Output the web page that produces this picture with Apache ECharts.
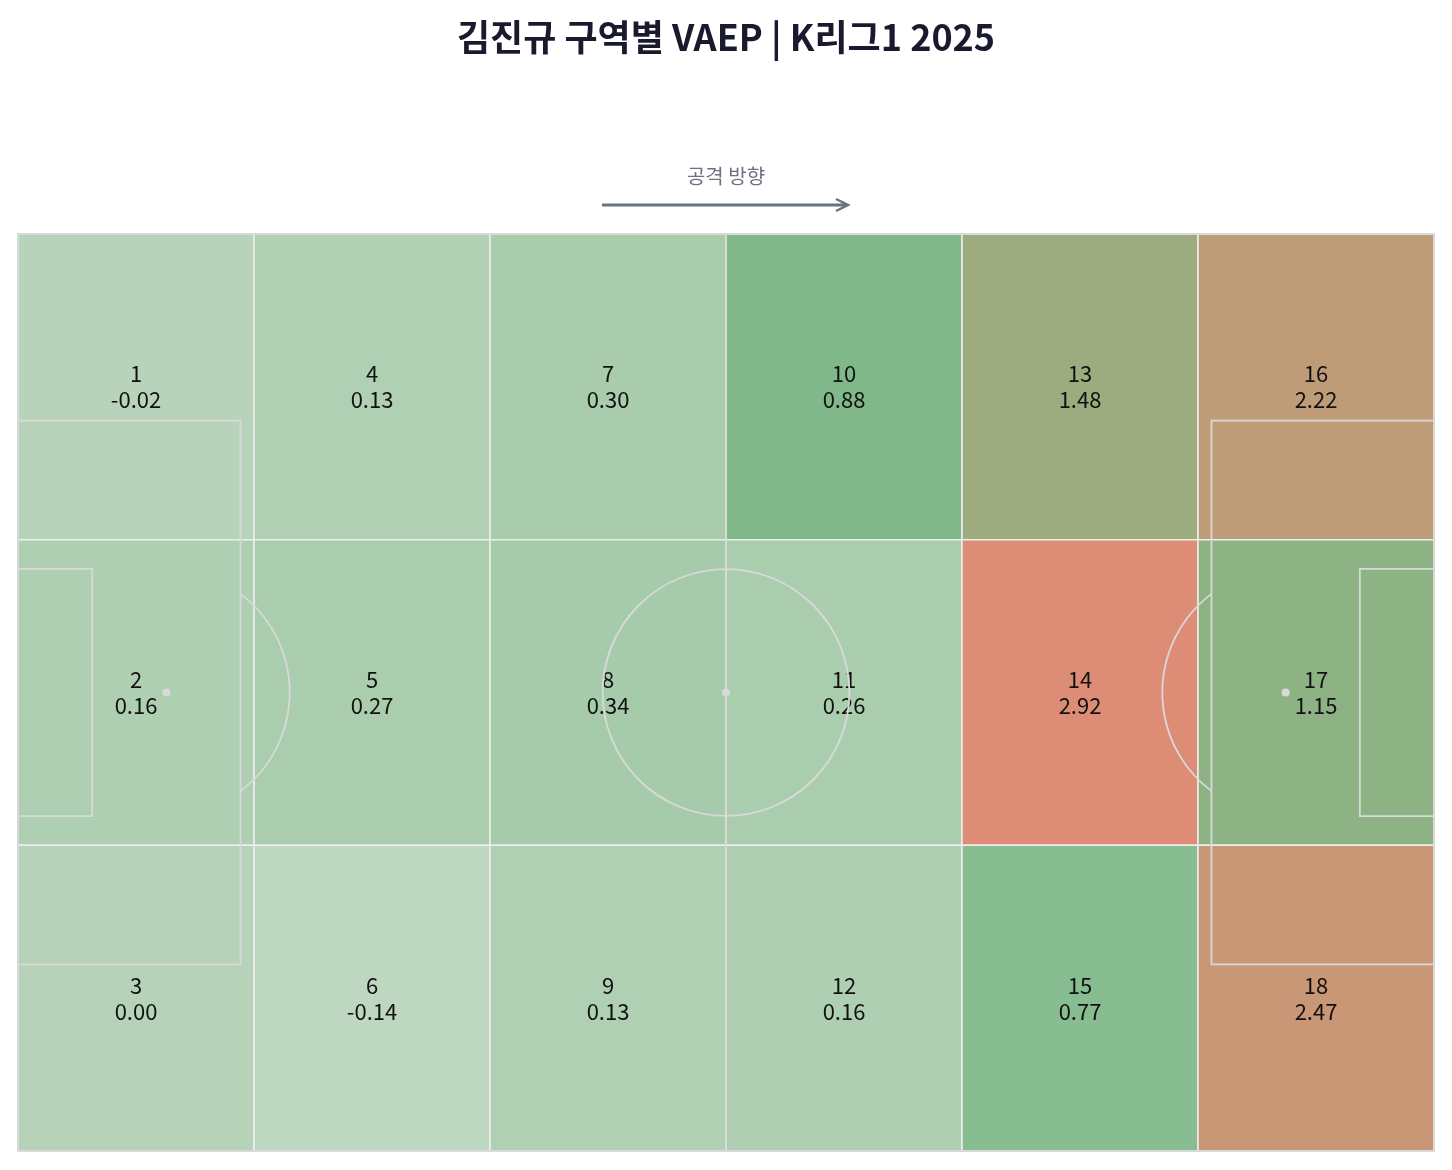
<!DOCTYPE html>
<html><head><meta charset="utf-8">
<script src="https://cdn.jsdelivr.net/npm/echarts@6/dist/echarts.min.js"></script>
<style>html,body{margin:0;padding:0;background:#fff}#c{width:1452px;height:1170px}</style>
</head><body><div id="c"></div>
<script>
const zones = [1,2,3,4,5,6,7,8,9,10,11,12,13,14,15,16,17,18];
const values = [-0.02,0.16,0.00,0.13,0.27,-0.14,0.30,0.34,0.13,0.88,0.26,0.16,1.48,2.92,0.77,2.22,1.15,2.47];
const nCols = 6, nRows = 3, L = 105, W = 68;
const data = zones.map((z,i)=>[Math.floor(i/nRows), i%nRows, values[i], z]);
const font = '"Noto Sans CJK KR","Noto Sans",sans-serif';
const lineColor = '#d9d9d9';

function cellItem(params, api){
  const c = api.value(0), r = api.value(1);
  const p0 = api.coord([c*L/nCols, r*W/nRows]);
  const p1 = api.coord([(c+1)*L/nCols, (r+1)*W/nRows]);
  const x = Math.min(p0[0],p1[0]), y = Math.min(p0[1],p1[1]);
  const w = Math.abs(p1[0]-p0[0]), h = Math.abs(p1[1]-p0[1]);
  const v = api.value(2);
  return {type:'group',children:[
    {type:'rect',shape:{x,y,width:w,height:h},style:{fill:api.visual('color'),stroke:'#eeeeee',lineWidth:1.5}},
    {type:'text',style:{x:x+w/2,y:y+h/2,text:api.value(3)+'\n'+(v<0?'-':'')+Math.abs(v).toFixed(2),
      align:'center',verticalAlign:'middle',fontSize:22,lineHeight:26,fill:'#111',fontFamily:font},z2:10}
  ]};
}
function pitch(params, api){
  const P = (x,y)=>api.coord([x,y]);
  const sx = api.size([1,0])[0];
  const st = {fill:'none',stroke:lineColor,lineWidth:1.8};
  const rect = (x0,y0,x1,y1)=>{const a=P(x0,y0),b=P(x1,y1);return {type:'rect',shape:{x:Math.min(a[0],b[0]),y:Math.min(a[1],b[1]),width:Math.abs(b[0]-a[0]),height:Math.abs(b[1]-a[1])},style:st};};
  const ch=[];
  ch.push(rect(0,0,L,W));
  ch.push(rect(0,13.84,16.5,54.16)); ch.push(rect(L-16.5,13.84,L,54.16));
  ch.push(rect(0,24.84,5.5,43.16)); ch.push(rect(L-5.5,24.84,L,43.16));
  const c = P(L/2,W/2);
  ch.push({type:'circle',shape:{cx:c[0],cy:c[1],r:9.15*sx},style:st});
  const a1=P(L/2,0),a2=P(L/2,W);
  ch.push({type:'line',shape:{x1:a1[0],y1:a1[1],x2:a2[0],y2:a2[1]},style:st});
  [[11,0],[L-11,Math.PI]].forEach(([sxp,rot])=>{
    const s=P(sxp,W/2);
    ch.push({type:'circle',shape:{cx:s[0],cy:s[1],r:4},style:{fill:lineColor}});
    const ang=Math.acos(5.5/9.15);
    ch.push({type:'arc',shape:{cx:s[0],cy:s[1],r:9.15*sx,startAngle:rot-ang,endAngle:rot+ang},style:st});
  });
  ch.push({type:'circle',shape:{cx:c[0],cy:c[1],r:4},style:{fill:lineColor}});
  return {type:'group',children:ch};
}
const chart = echarts.init(document.getElementById('c'));
chart.setOption({
  animation:false,
  title:{text:'김진규 구역별 VAEP | K리그1 2025',left:'center',top:14,textStyle:{fontSize:36,fontWeight:'bold',color:'#1a1a2e',fontFamily:font}},
  grid:{left:18,right:18,top:234,bottom:19},
  xAxis:{type:'value',min:0,max:L,show:false},
  yAxis:{type:'value',min:0,max:W,show:false,inverse:true},
  visualMap:{show:false,dimension:2,seriesIndex:0,min:-0.14,max:2.92,
    inRange:{color:['#bdd7c0','#a5caa9','#80b88a','#98ae80','#b2a37b','#c79876','#dd8c75']}},
  graphic:[
    {type:'text',left:'center',top:166,style:{text:'공격 방향',fontSize:20,fill:'#6b7280',fontFamily:font}},
    {type:'line',shape:{x1:602,y1:205,x2:846,y2:205},style:{stroke:'#6b7280',lineWidth:3}},
    {type:'polyline',shape:{points:[[836,199],[848,205],[836,211]]},style:{stroke:'#6b7280',lineWidth:2.5,fill:'none'}}
  ],
  series:[
    {type:'custom',renderItem:cellItem,data:data,z:1},
    {type:'custom',renderItem:pitch,data:[[0,0]],z:5,silent:true}
  ]
});
</script></body></html>
